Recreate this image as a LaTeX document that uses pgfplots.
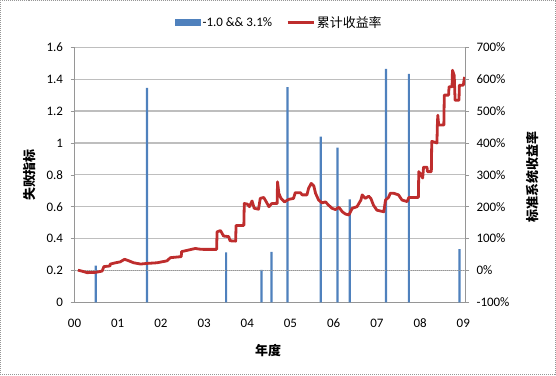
\documentclass[border=0pt]{standalone}
\usepackage{fontspec}
\setmainfont{Carlito}
\newfontfamily\cjk{Noto Sans CJK SC}
\usepackage{pgfplots}
\pgfplotsset{compat=1.18}
\definecolor{barblue}{RGB}{79,129,189}
\definecolor{linered}{RGB}{190,45,45}
\definecolor{gridgray}{RGB}{190,190,190}
\definecolor{axgray}{RGB}{150,150,150}
\begin{document}
\begin{tikzpicture}[x=1bp,y=1bp]
\useasboundingbox (0,0) rectangle (556,375);
\draw[axgray, line width=0.6bp, dash pattern=on 1bp off 1bp] (0.5,0.5) rectangle (555.5,374.5);
\begin{axis}[
  at={(74.5bp,72.7bp)}, anchor=south west,
  scale only axis, width=390.5bp, height=255bp,
  xmin=0, xmax=9.04, ymin=0, ymax=1.6,
  axis x line*=bottom, axis y line*=left,
  axis line style={axgray, line width=0.6bp},
  xtick={0,1,2,3,4,5,6,7,8,9},
  xticklabels={00,01,02,03,04,05,06,07,08,09},
  xtick style={draw=none},
  ytick={0,0.2,0.4,0.6,0.8,1,1.2,1.4,1.6},
  yticklabels={0,0.2,0.4,0.6,0.8,1,1.2,1.4,1.6},
  ytick style={axgray, line width=0.6bp},
  tick align=outside, major tick length=4bp,
  ymajorgrids, major grid style={gridgray, line width=1.2bp},
  tick label style={font=\fontsize{13}{15}\selectfont},
  yticklabel style={xshift=-4bp},
  xticklabel style={yshift=-9bp},
  legend style={at={(0.524,1)}, anchor=south, yshift=15bp, draw=none, fill=none,
    font=\fontsize{13}{15}\selectfont, legend columns=2,
    /tikz/every even column/.append style={column sep=12bp},
    inner sep=1bp, row sep=0pt},
]
\addplot[ybar, bar width=2.2bp, bar shift=0pt, fill=barblue, draw=none,
  legend image code/.code={\fill[barblue] (0bp,-3.5bp) rectangle (26bp,3.5bp);}]
coordinates {
(0.49,0.23) (1.68,1.345) (3.51,0.313) (4.33,0.203) (4.56,0.316) (4.93,1.35)
(5.70,1.04) (6.09,0.97) (6.37,0.646) (7.21,1.465) (7.74,1.434) (8.91,0.334)
};
\addlegendentry{-1.0 \&\& 3.1\%}
\addlegendimage{legend image code/.code={\draw[linered, line width=2.8bp] (0bp,0bp) -- (26bp,0bp);}}
\addlegendentry{{\cjk 累计收益率}}
\draw[axgray, line width=0.6bp, dash pattern=on 1bp off 1bp] (axis cs:0,0.2) -- (axis cs:9.04,0.2);
\end{axis}
\begin{axis}[
  at={(74.5bp,72.7bp)}, anchor=south west,
  scale only axis, width=390.5bp, height=255bp,
  xmin=0, xmax=9.04, ymin=-100, ymax=700,
  axis x line=none, axis y line*=right,
  axis line style={axgray, line width=0.6bp},
  ytick={-100,0,100,200,300,400,500,600,700},
  yticklabels={-100\%,0\%,100\%,200\%,300\%,400\%,500\%,600\%,700\%},
  ytick style={axgray, line width=0.6bp},
  tick align=outside, major tick length=4bp,
  tick label style={font=\fontsize{13}{15}\selectfont},
  yticklabel style={xshift=4bp},
]
\addplot[linered, line width=2.8bp, line join=round] coordinates {
(0.08,1) (0.22,-4) (0.29,-7) (0.49,-6) (0.64,-2) (0.68,12) (0.82,14) (0.83,20)
(0.95,24) (1.06,27) (1.16,35) (1.26,30) (1.37,24) (1.53,20) (1.68,22) (1.91,24)
(2.14,30) (2.22,40) (2.45,43) (2.47,43) (2.48,59) (2.64,64) (2.80,69) (2.88,67)
(2.99,66) (3.29,66) (3.30,121) (3.38,125) (3.45,108) (3.57,106) (3.60,93) (3.73,92)
(3.74,141) (3.92,141) (3.93,210) (4.00,208) (4.05,200) (4.11,218) (4.16,195) (4.26,192)
(4.30,226) (4.38,229) (4.44,215) (4.50,200) (4.57,210) (4.69,210) (4.70,278) (4.73,242)
(4.78,226) (4.86,215) (4.96,223) (5.07,226) (5.11,244) (5.23,244) (5.27,237) (5.38,237)
(5.42,258) (5.48,273) (5.54,265) (5.58,242) (5.65,221) (5.73,212) (5.81,215) (5.88,205)
(5.96,195) (6.04,191) (6.12,198) (6.20,184) (6.27,177) (6.35,174) (6.43,195) (6.54,200)
(6.63,221) (6.66,237) (6.73,226) (6.81,233) (6.86,226) (6.92,205) (7.00,189) (7.16,184)
(7.20,221) (7.27,229) (7.31,242) (7.39,242) (7.50,237) (7.58,221) (7.70,216) (7.74,229)
(7.96,229) (7.97,310) (8.02,300) (8.06,290) (8.08,324) (8.16,324) (8.17,310) (8.26,310)
(8.27,405) (8.39,400) (8.40,456) (8.41,487) (8.43,456) (8.55,456) (8.56,550) (8.66,550)
(8.67,576) (8.74,576) (8.75,628) (8.79,612) (8.81,534) (8.90,534) (8.91,581) (9.00,581)
(9.03,607)
};
\end{axis}
\node[rotate=90, font=\cjk\bfseries\fontsize{13}{15}\selectfont] at (30,200) {失败指标};
\node[rotate=90, font=\cjk\bfseries\fontsize{13}{15}\selectfont] at (533,198) {标准系统收益率};
\node[font=\cjk\bfseries\fontsize{13}{15}\selectfont] at (268,24) {年度};
\end{tikzpicture}
\end{document}
